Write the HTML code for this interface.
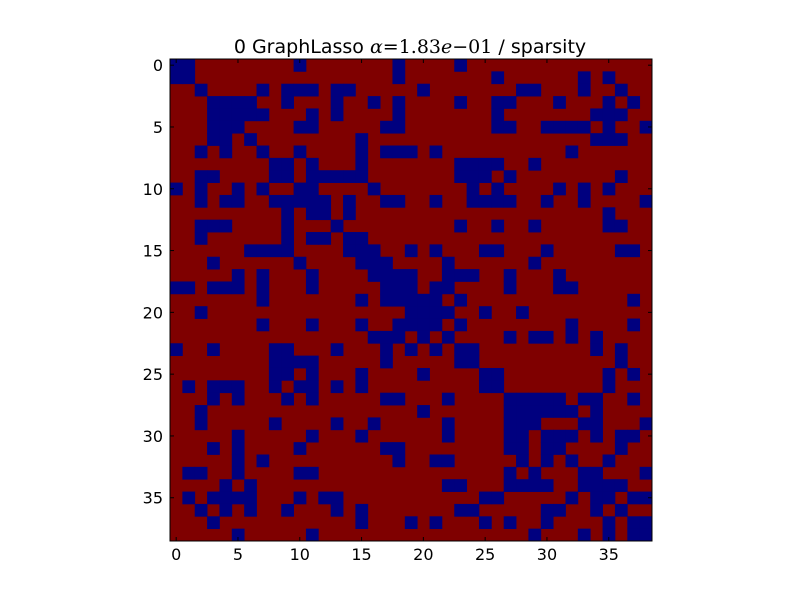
<!DOCTYPE html>
<html><head><meta charset="utf-8"><style>
body{margin:0;background:#fff;}
svg{display:block;font-family:"DejaVu Sans","Liberation Sans",sans-serif;}
</style></head><body>
<svg id="chart" width="800" height="600" viewBox="0 0 800 600">
<rect width="800" height="600" fill="#fff"/>
<text x="410" y="53" text-anchor="middle" font-size="19">0 GraphLasso <tspan font-family="'DejaVu Serif','Liberation Serif',serif" font-style="italic">α</tspan><tspan font-family="'DejaVu Serif','Liberation Serif',serif">=1.83</tspan><tspan font-family="'DejaVu Serif','Liberation Serif',serif" font-style="italic">e</tspan><tspan font-family="'DejaVu Serif','Liberation Serif',serif">−01</tspan> / sparsity</text>
<g id="cells"></g>
<g id="axes"></g>
</svg>
<script>
const nRows = 39;
const tickValues = [0,5,10,15,20,25,30,35];
const blueCols = [
[0,1,10,18,23],
[0,1,18,26,33,35],
[2,7,9,10,11,13,14,20,28,29,33,36],
[3,4,5,6,9,13,16,18,23,26,27,31,35,37],
[3,4,5,6,7,11,13,18,26,34,35,36],
[3,4,5,10,11,17,18,26,27,30,31,32,33,35,38],
[3,4,6,15,34,35,36],
[2,4,7,10,15,17,18,19,21,32],
[8,9,11,15,23,24,25,26,29],
[2,3,8,9,11,12,13,14,15,23,24,25,27,36],
[0,2,5,7,10,11,16,24,26,31,33,35],
[2,4,5,8,9,10,11,12,14,17,18,21,24,25,26,27,30,33,38],
[9,11,12,14,35],
[2,3,4,9,13,23,26,29,35,36],
[2,9,11,12,14,15],
[6,7,8,9,14,15,16,19,21,25,26,30,36,37],
[3,10,15,16,17,22,29],
[5,7,11,16,17,18,19,22,23,24,27,31],
[0,1,3,4,5,7,11,17,18,19,21,22,27,31,32],
[7,15,17,18,19,20,21,23,37],
[2,19,20,21,22,25,28],
[7,11,15,18,19,20,21,23,32,37],
[16,17,18,20,22,27,29,30,32,34],
[0,3,8,9,13,17,19,21,23,24,34,36],
[8,9,10,11,17,23,24,36],
[8,9,11,15,20,25,26,35,37],
[1,3,4,5,8,10,11,13,15,25,26,35],
[3,5,9,11,17,18,22,27,28,29,30,31,33,34,37],
[2,20,27,28,29,30,31,32,34],
[2,8,13,16,22,27,28,29,33,34,38],
[5,11,15,22,27,28,30,31,32,34,36,37],
[3,5,10,17,18,27,28,30,31,36],
[5,7,18,21,22,28,30,32,35],
[1,2,5,10,11,27,29,33,34,38],
[4,6,22,23,27,28,29,30,33,34,35,36],
[1,3,4,5,6,10,12,13,25,26,32,34,35,37,38],
[2,4,6,9,13,15,23,24,30,31,34,36],
[3,15,19,21,25,27,30,35,37,38],
[5,11,29,33,35,37,38]
];
const NS = "http://www.w3.org/2000/svg";
const L = 170, T = 59, W = 482, H = 482;
const cw = W / nRows, ch = H / nRows;
const xPos = c => L + c * cw;
const yPos = r => T + r * ch;
const cells = document.getElementById('cells');
const bg = document.createElementNS(NS, 'rect');
bg.setAttribute('x', L); bg.setAttribute('y', T); bg.setAttribute('width', W); bg.setAttribute('height', H); bg.setAttribute('fill', '#7f0000');


cells.appendChild(bg);
blueCols.forEach((cols, r) => {
  cols.forEach(c => {
    const el = document.createElementNS(NS, 'rect');
    el.setAttribute('x', xPos(c)); el.setAttribute('y', yPos(r));
    el.setAttribute('width', cw + 0.4); el.setAttribute('height', ch + 0.4);
    el.setAttribute('fill', '#00007f');
    
    
    cells.appendChild(el);
  });
});
const axes = document.getElementById('axes');
const frame = document.createElementNS(NS, 'rect');
frame.setAttribute('x', L); frame.setAttribute('y', T); frame.setAttribute('width', W); frame.setAttribute('height', H);
frame.setAttribute('fill', 'none'); frame.setAttribute('stroke', '#000'); frame.setAttribute('stroke-width', '1');


axes.appendChild(frame);
function line(x1,y1,x2,y2,name){
  const l = document.createElementNS(NS,'line');
  l.setAttribute('x1',x1);l.setAttribute('y1',y1);l.setAttribute('x2',x2);l.setAttribute('y2',y2);
  l.setAttribute('stroke','#000');l.setAttribute('stroke-width','1');
  
  
  axes.appendChild(l);
}
function label(x,y,txt,anchor,name){
  const t = document.createElementNS(NS,'text');
  t.setAttribute('x',x);t.setAttribute('y',y);t.setAttribute('text-anchor',anchor);
  t.setAttribute('font-size','16');t.textContent = txt;
  
  
  axes.appendChild(t);
}
tickValues.forEach(v => {
  const x = xPos(v + 0.5), y = yPos(v + 0.5);
  line(x, T+H, x, T+H-4, 'x-tick');
  line(x, T, x, T+4, 'x-tick-top');
  line(L, y, L+4, y, 'y-tick');
  line(L+W, y, L+W-4, y, 'y-tick-right');
  label(x, T+H+19, String(v), 'middle', 'x-tick-label');
  label(L-7, y+6, String(v), 'end', 'y-tick-label');
});
</script>
</body></html>
